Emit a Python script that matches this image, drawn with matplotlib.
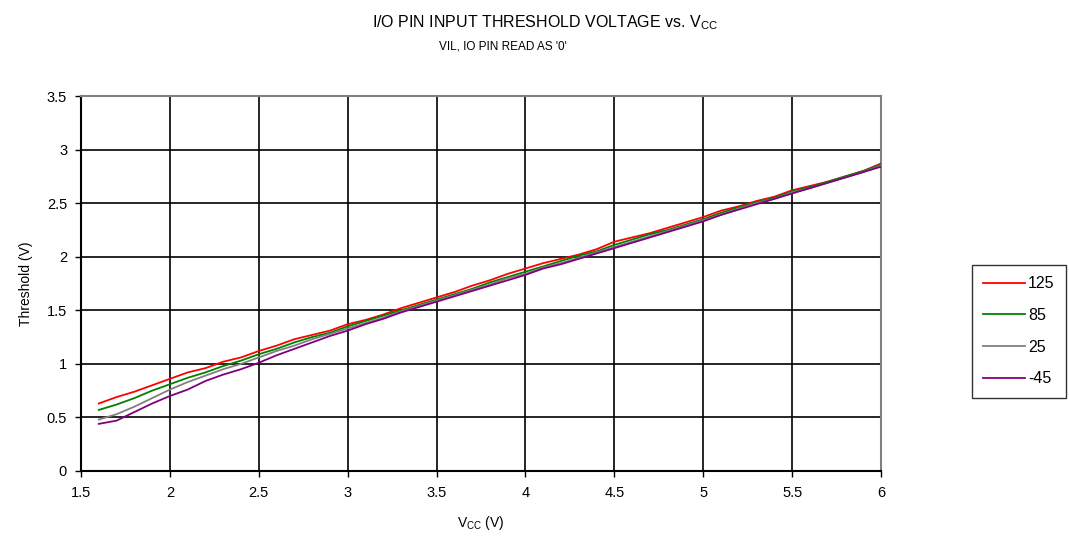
import matplotlib
matplotlib.use("Agg")
import matplotlib.pyplot as plt

plt.rcParams['font.family'] = ['Liberation Sans', 'DejaVu Sans']
plt.rcParams['mathtext.fontset'] = 'custom'
plt.rcParams['mathtext.rm'] = 'Liberation Sans'

vcc = [1.6, 1.7, 1.8, 1.9, 2.0, 2.1, 2.2, 2.3, 2.4, 2.5, 2.6, 2.7, 2.8, 2.9, 3.0,
       3.1, 3.2, 3.3, 3.4, 3.5, 3.6, 3.7, 3.8, 3.9, 4.0, 4.1, 4.2, 4.3, 4.4, 4.5,
       4.6, 4.7, 4.8, 4.9, 5.0, 5.1, 5.2, 5.3, 5.4, 5.5, 5.6, 5.7, 5.8, 5.9, 6.0]

t125 = [0.63, 0.69, 0.74, 0.80, 0.86, 0.92, 0.96, 1.02, 1.06, 1.12, 1.17, 1.23, 1.27, 1.31, 1.37,
        1.41, 1.46, 1.52, 1.57, 1.62, 1.67, 1.73, 1.78, 1.84, 1.89, 1.94, 1.98, 2.02, 2.07, 2.14,
        2.18, 2.22, 2.27, 2.32, 2.37, 2.43, 2.47, 2.52, 2.56, 2.62, 2.66, 2.70, 2.75, 2.80, 2.87]
t85 = [0.57, 0.62, 0.68, 0.75, 0.81, 0.87, 0.92, 0.98, 1.03, 1.09, 1.14, 1.20, 1.25, 1.29, 1.35,
       1.40, 1.45, 1.50, 1.55, 1.60, 1.65, 1.70, 1.76, 1.81, 1.86, 1.91, 1.96, 2.01, 2.05, 2.11,
       2.16, 2.21, 2.25, 2.30, 2.35, 2.41, 2.46, 2.51, 2.55, 2.61, 2.65, 2.70, 2.75, 2.80, 2.86]
t25 = [0.48, 0.53, 0.60, 0.68, 0.76, 0.83, 0.89, 0.95, 1.00, 1.06, 1.12, 1.17, 1.23, 1.28, 1.33,
       1.38, 1.43, 1.49, 1.54, 1.59, 1.64, 1.69, 1.74, 1.80, 1.84, 1.90, 1.94, 1.99, 2.04, 2.09,
       2.14, 2.19, 2.24, 2.29, 2.34, 2.39, 2.45, 2.50, 2.54, 2.60, 2.64, 2.69, 2.74, 2.79, 2.85]
tm45 = [0.44, 0.47, 0.55, 0.63, 0.70, 0.76, 0.84, 0.90, 0.95, 1.01, 1.08, 1.14, 1.20, 1.26, 1.31,
        1.37, 1.42, 1.48, 1.53, 1.58, 1.63, 1.68, 1.73, 1.78, 1.83, 1.89, 1.93, 1.98, 2.03, 2.08,
        2.13, 2.18, 2.23, 2.28, 2.33, 2.39, 2.44, 2.49, 2.54, 2.59, 2.64, 2.69, 2.74, 2.79, 2.84]

series = [("125", t125, "#ff0000"), ("85", t85, "#008000"),
          ("25", t25, "#808080"), ("-45", tm45, "#800080")]

fig = plt.figure(figsize=(10.69, 5.42), dpi=100)
ax = fig.add_axes([81/1069, 1 - 471/542, 800/1069, 375/542])

for label, vals, col in series:
    ax.plot(vcc, vals, color=col, lw=1.3, label=label, zorder=3)

ax.set_xlim(1.5, 6)
ax.set_ylim(0, 3.5)
ax.set_xticks([1.5, 2, 2.5, 3, 3.5, 4, 4.5, 5, 5.5, 6])
ax.set_xticklabels(["1.5", "2", "2.5", "3", "3.5", "4", "4.5", "5", "5.5", "6"])
ax.set_yticks([0, 0.5, 1, 1.5, 2, 2.5, 3, 3.5])
ax.set_yticklabels(["0", "0.5", "1", "1.5", "2", "2.5", "3", "3.5"])
ax.grid(True, color="black", lw=1.2, zorder=1)
ax.tick_params(direction="out", length=4, width=1, labelsize=10.5, colors="black")
ax.tick_params(axis="x", pad=7)
ax.tick_params(axis="y", pad=6)
ax.spines["top"].set_color("#808080")
ax.spines["right"].set_color("#808080")
for s in ax.spines.values():
    s.set_linewidth(1.5)

ax.set_ylabel("Threshold (V)", fontsize=10, labelpad=10)
ax.set_xlabel(r"V$_{\mathrm{CC}}$ (V)", fontsize=10, labelpad=10)

fig.text(0.51, 0.958, r"I/O PIN INPUT THRESHOLD VOLTAGE vs. V$_{\mathrm{CC}}$",
         ha="center", va="center", fontsize=11.5)
fig.text(0.47, 0.915, "VIL, IO PIN READ AS '0'", ha="center", va="center",
         fontsize=8.5)

leg = fig.legend(loc="upper left", bbox_to_anchor=(972/1069, 1 - 265/542),
                 frameon=True, fancybox=False, fontsize=11.5, handlelength=2.6,
                 handletextpad=0.2, labelspacing=1.05, borderpad=0.7,
                 borderaxespad=0)
leg.get_frame().set_edgecolor("black")
leg.get_frame().set_linewidth(1)

fig.savefig("out.png", dpi=100)
plt.close(fig)
